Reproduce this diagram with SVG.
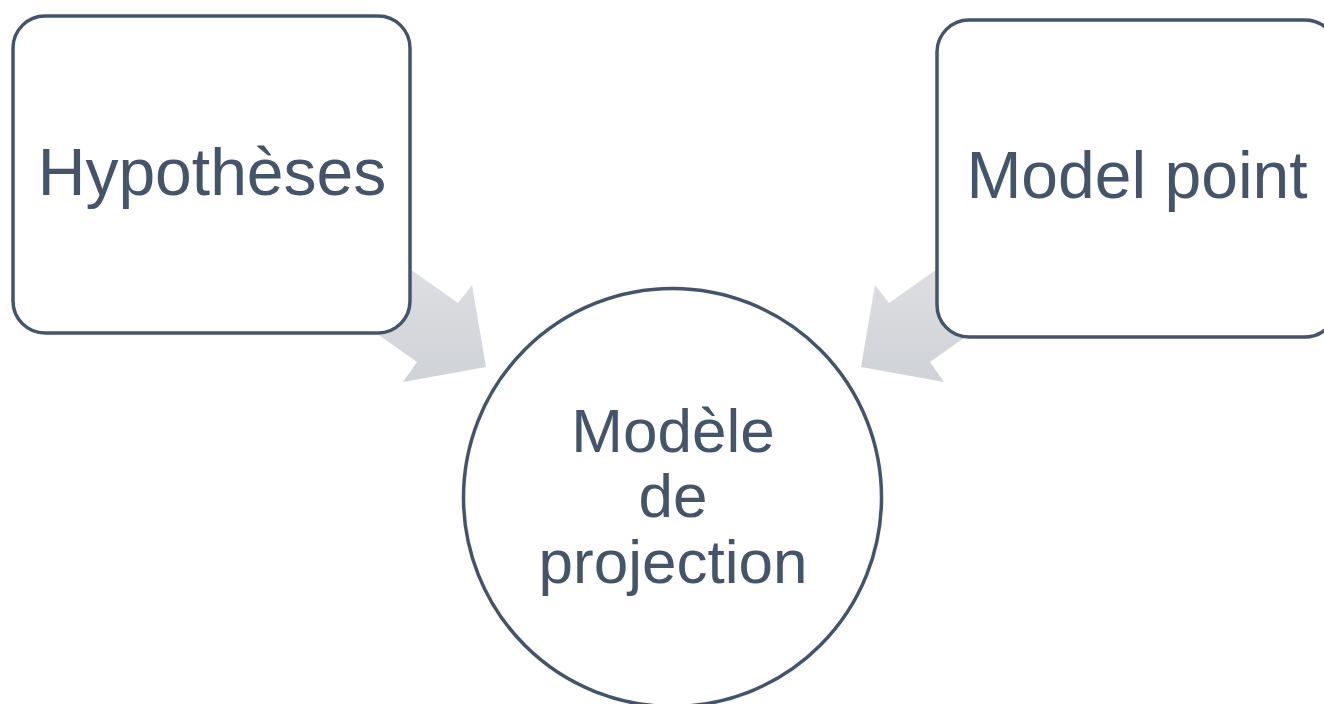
<svg xmlns="http://www.w3.org/2000/svg" width="1324" height="704" viewBox="0 0 1324 704">
  <defs>
    <linearGradient id="arrowFill" x1="0" y1="0" x2="0" y2="1">
      <stop offset="0" stop-color="#e0e1e4"/>
      <stop offset="1" stop-color="#cfd2d7"/>
    </linearGradient>
    <style>
      .node { fill: #ffffff; stroke: #44546a; stroke-width: 3.5; }
      .label { font-family: "Liberation Sans", Arial, sans-serif; fill: #44546a; text-anchor: middle; }
      .arrow { fill: url(#arrowFill); stroke: none; }
    </style>
  </defs>
  <rect width="1324" height="704" fill="#ffffff"/>

  <!-- block arrows pointing into the central circle -->
  <g id="connectors">
    <polygon class="arrow" points="376,245 458,303 472,285 486,367 403,382 417,362 335,304"/>
    <polygon class="arrow" points="971,245 889,303 875,285 861,367 944,382 930,362 1012,304"/>
  </g>

  <g id="hypotheses">
    <rect class="node" x="13" y="16" width="397" height="317" rx="32" ry="32"/>
    <text class="label" x="212" y="195" font-size="66">Hypothèses</text>
  </g>

  <g id="model-point">
    <rect class="node" x="937" y="20" width="400" height="317" rx="32" ry="32"/>
    <text class="label" x="1137" y="198" font-size="66">Model point</text>
  </g>

  <g id="modele-projection">
    <circle class="node" cx="672.5" cy="497.5" r="209"/>
    <!-- tspans kept on one line so no stray spaces shift the centred lines -->
    <text class="label" font-size="62"><tspan x="673" y="452">Modèle</tspan><tspan x="673" y="517">de</tspan><tspan x="673" y="583">projection</tspan></text>
  </g>
</svg>
